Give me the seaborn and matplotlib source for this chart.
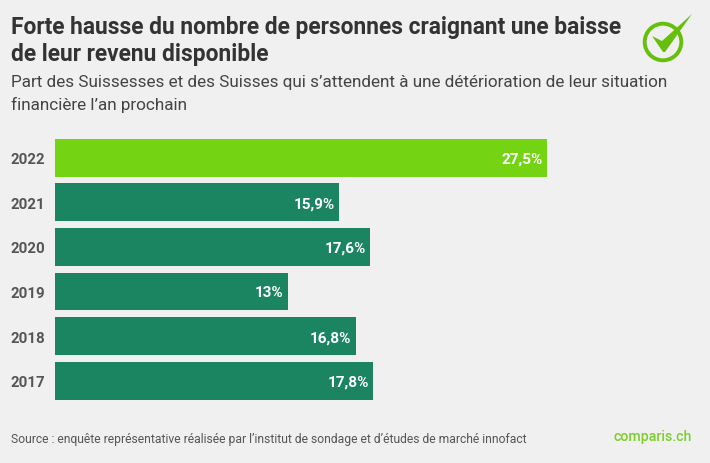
import seaborn as sns
import matplotlib.pyplot as plt
import pandas as pd
from matplotlib.patches import Circle, Polygon

years = ["2022", "2021", "2020", "2019", "2018", "2017"]
values = [27.5, 15.9, 17.6, 13, 16.8, 17.8]
value_labels = ["27,5%", "15,9%", "17,6%", "13%", "16,8%", "17,8%"]
title = "Forte hausse du nombre de personnes craignant une baisse\nde leur revenu disponible"
subtitle = ("Part des Suissesses et des Suisses qui s’attendent à une détérioration de leur situation\n"
            "financière l’an prochain")
source = "Source : enquête représentative réalisée par l’institut de sondage et d’études de marché innofact"

BG = "#f0f0f0"
LIME = "#74d414"
GREEN = "#1a8560"
W, H = 710, 464

sns.set_theme(style="white")
plt.rcParams["font.family"] = ["Roboto", "DejaVu Sans"]

df = pd.DataFrame({"year": years, "value": values})

fig = plt.figure(figsize=(W / 100, H / 100), dpi=100, facecolor=BG)
ax = fig.add_axes([55 / W, 1 - 404 / H, 655 / W, 267.6 / H], facecolor=BG)
sns.barplot(data=df, x="value", y="year", hue="year", palette=[LIME] + [GREEN] * 5,
            legend=False, width=0.85, saturation=1, linewidth=0, ax=ax)
ax.set_xlim(0, 655 / 17.89)
ax.set_ylim(5.5, -0.5)
ax.set_xlabel("")
ax.set_ylabel("")
ax.xaxis.set_visible(False)
ax.tick_params(axis="y", length=0, pad=7, labelsize=10.8, labelcolor="#555555")
for t in ax.get_yticklabels():
    t.set_fontweight("bold")
sns.despine(ax=ax, left=True, bottom=True)

for i, (v, lab) in enumerate(zip(values, value_labels)):
    ax.annotate(lab, (v, i), xytext=(-3, -0.7), textcoords="offset points", ha="right", va="center",
                color="white", fontsize=11, fontweight="bold")

fig.text(11 / W, 1 - 16 / H, title, ha="left", va="top", fontsize=16.42, fontweight="bold",
         color="#333333", linespacing=1.2)
fig.text(11 / W, 1 - 75.5 / H, subtitle, ha="left", va="top", fontsize=12.3, color="#444444",
         linespacing=1.46)
fig.text(11 / W, 1 - 440 / H, source, ha="left", va="center", fontsize=8.7, color="#555555")

# logo and wordmark on a pixel overlay
ov = fig.add_axes([0, 0, 1, 1], facecolor="none")
ov.set_xlim(0, W)
ov.set_ylim(H, 0)
ov.axis("off")
ov.add_patch(Circle((663, 43), 18.3, fill=False, ec="#66bf0a", lw=2.8))
ov.add_patch(Polygon([(652, 37), (662, 42), (692, 15), (665, 53), (663, 53)], closed=True,
                     fc="#66bf0a", ec="none"))
ov.text(692, 437, "comparis.ch", ha="right", va="center", fontsize=10.2, fontweight="medium",
        color="#7ccf2a")

fig.savefig("out.png", dpi=100, facecolor=BG)
